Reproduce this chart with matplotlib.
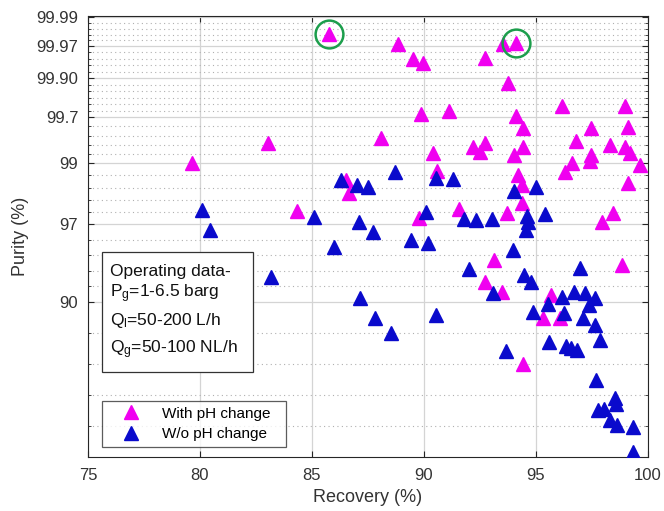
import numpy as np
import matplotlib
matplotlib.use("Agg")
import matplotlib.pyplot as plt
from matplotlib.lines import Line2D
from matplotlib.patches import Rectangle
from matplotlib.ticker import FixedLocator

plt.rcParams['font.family'] = ['Liberation Sans', 'DejaVu Sans']
plt.rcParams['mathtext.default'] = 'regular'

# with pH change: recovery (%), purity (%)
rec_ph = [85.78, 88.85, 89.52, 89.97, 92.73, 93.53, 94.11, 93.75, 89.88, 91.12,
          88.10, 90.41, 83.02, 79.63, 84.31, 86.54, 86.67, 90.59, 89.79, 91.57,
          92.19, 92.73, 92.51, 94.02, 94.42, 94.11, 94.42, 96.16, 98.96, 99.10,
          97.45, 96.78, 98.30, 98.96, 99.19, 97.45, 97.41, 96.60, 96.29, 99.63,
          99.10, 94.20, 94.38, 94.38, 93.71, 97.94, 98.43, 93.13, 98.83, 92.73,
          93.49, 95.67, 96.07, 94.42, 95.31]
pur_ph = [99.981, 99.972, 99.950, 99.942, 99.952, 99.972, 99.973, 99.885, 99.725, 99.746,
          99.47, 99.22, 99.39, 99.01, 97.57, 98.61, 98.22, 98.83, 97.27, 97.65,
          99.33, 99.39, 99.24, 99.18, 99.33, 99.71, 99.59, 99.778, 99.778, 99.60,
          99.59, 99.42, 99.36, 99.33, 99.22, 99.18, 99.05, 99.01, 98.81, 98.97,
          98.52, 98.73, 98.47, 97.88, 97.49, 97.10, 97.49, 94.42, 93.97, 92.28,
          91.17, 90.82, 87.85, 80.66, 87.85]

# without pH change
rec_no = [80.08, 80.43, 83.15, 85.07, 86.31, 87.03, 87.52, 88.72, 87.12, 87.74,
          86.00, 89.43, 90.19, 90.55, 91.30, 90.10, 87.16, 94.02, 95.00, 91.79,
          92.33, 93.04, 94.60, 94.64, 94.55, 95.40, 93.98, 92.02, 96.96, 94.47,
          94.78, 93.08, 96.16, 96.69, 97.18, 97.63, 87.83, 88.54, 90.55, 93.66,
          94.87, 95.53, 95.58, 96.25, 96.34, 96.56, 96.83, 97.09, 97.36, 97.63,
          97.85, 97.67, 97.76, 98.03, 98.52, 98.56, 98.30, 98.61, 99.32, 99.32]
pur_no = [97.61, 96.64, 92.81, 97.32, 98.61, 98.47, 98.41, 98.81, 97.10, 96.52,
          95.48, 95.99, 95.77, 98.66, 98.63, 97.53, 90.45, 98.29, 98.41, 97.23,
          97.19, 97.23, 97.36, 97.10, 96.64, 97.44, 95.24, 93.60, 93.70, 93.01,
          92.28, 91.05, 90.58, 91.17, 91.05, 90.45, 87.85, 85.69, 88.26, 82.85,
          88.66, 89.71, 84.29, 88.53, 83.67, 83.34, 83.02, 87.85, 89.58, 86.87,
          84.60, 77.84, 72.22, 72.42, 74.51, 73.37, 70.28, 69.31, 68.92, 63.96]

circled = [0, 6]   # points marked with green rings (with pH change)

ytick_vals = [90, 97, 99, 99.7, 99.9, 99.97, 99.99]
ytick_labels = ['90', '97', '99', '99.7', '99.90', '99.97', '99.99']
xtick_vals = [75, 80, 85, 90, 95, 100]

# probability axis calibration: fraction of axis height at each labelled tick
tick_frac = [0.3522, 0.5283, 0.6660, 0.7703, 0.8587, 0.9320, 0.9966]
minor_parts = [5, 5, 5, 6, 5, 5]


def weib(p):
    p = np.clip(np.asarray(p, dtype=float), 1e-6, 100 - 1e-9)
    return np.log(-np.log1p(-p / 100.0))


def pw(x, xp, fp):
    x = np.asarray(x, dtype=float)
    y = np.interp(x, xp, fp)
    lo = (fp[1] - fp[0]) / (xp[1] - xp[0])
    hi = (fp[-1] - fp[-2]) / (xp[-1] - xp[-2])
    y = np.where(x < xp[0], fp[0] + (x - xp[0]) * lo, y)
    y = np.where(x > xp[-1], fp[-1] + (x - xp[-1]) * hi, y)
    return y


W_T = weib(ytick_vals)


def fwd(p):
    return pw(weib(p), W_T, tick_frac)


def inv(f):
    w = pw(f, tick_frac, W_T)
    return 100.0 * (-np.expm1(-np.exp(w)))


fig = plt.figure(figsize=(6.64, 5.11), dpi=100)
ax = fig.add_axes([0.1325, 0.1057, 0.8434, 0.8630])
ax.set_yscale('function', functions=(fwd, inv))
ax.set_ylim(float(inv(0.0)), float(inv(1.0)))
ax.set_xlim(75, 100)

# minor ticks: even subdivisions between labelled ticks
mfr = []
for i, n in enumerate(minor_parts):
    a, b = tick_frac[i], tick_frac[i + 1]
    mfr += list(np.linspace(a, b, n + 1)[1:-1])
step = (tick_frac[1] - tick_frac[0]) / 5 * 2
f = tick_frac[0] - step
while f > 0.005:
    mfr.append(f)
    f -= step
ax.yaxis.set_minor_locator(FixedLocator(inv(np.array(mfr))))
ax.yaxis.set_major_locator(FixedLocator(ytick_vals))
ax.set_yticklabels(ytick_labels)
ax.set_xticks(xtick_vals)
ax.xaxis.set_minor_locator(FixedLocator([]))

ax.grid(True, which='major', color='#d4d4d4', lw=0.9)
ax.grid(True, which='minor', axis='y', color='#b0b0b0', lw=0.8, ls=(0, (1, 3)))
ax.set_axisbelow(True)

for s in ax.spines.values():
    s.set_color('#262626')
    s.set_linewidth(0.8)
ax.tick_params(which='both', direction='in', top=True, right=True,
               colors='#262626', labelsize=12, labelcolor='#333333')
ax.tick_params(which='major', length=4)
ax.tick_params(which='minor', length=2.5)
ax.tick_params(axis='x', pad=8)
ax.tick_params(axis='y', pad=7)

mag = '#f000f0'
blu = '#0a0acc'
ax.plot(rec_ph, pur_ph, ls='none', marker='^', ms=9.5, color=mag, mec=mag, zorder=3)
ax.plot(rec_no, pur_no, ls='none', marker='^', ms=9.5, color=blu, mec=blu, zorder=3)
ax.plot([rec_ph[i] for i in circled], [pur_ph[i] for i in circled], ls='none',
        marker='o', ms=20, mfc='none', mec='#1c9e4c', mew=1.8, zorder=4)

ax.set_xlabel('Recovery (%)', fontsize=13, color='#333333', labelpad=4)
ax.set_ylabel('Purity (%)', fontsize=13, color='#333333', labelpad=5)

ax.add_patch(Rectangle((0.0245, 0.1934), 0.2707, 0.2721, transform=ax.transAxes,
                       facecolor='white', edgecolor='#333333', lw=0.9, zorder=5))
box_lines = ['Operating data-', r'P$_g$=1-6.5 barg', r'Q$_l$=50-200 L/h', r'Q$_g$=50-100 NL/h']
box_y = [0.4104, 0.3621, 0.2993, 0.2358]
for t, yy in zip(box_lines, box_y):
    ax.text(0.0393, yy, t, transform=ax.transAxes, fontsize=12.5, va='baseline',
            color='#111111', zorder=6)

handles = [Line2D([], [], ls='none', marker='^', ms=9.5, color=mag, label='With pH change'),
           Line2D([], [], ls='none', marker='^', ms=9.5, color=blu, label='W/o pH change')]
leg = ax.legend(handles=handles, loc='lower left', bbox_to_anchor=(0.0245, 0.0227, 0.3291, 0.114),
                mode='expand', fontsize=11, frameon=True, fancybox=False, borderaxespad=0,
                handlelength=3.1, handletextpad=0.45, borderpad=0.4, labelspacing=0.4)
leg.get_frame().set_edgecolor('#333333')
leg.get_frame().set_linewidth(0.9)
leg.set_zorder(6)

fig.savefig('out.png', dpi=100)
